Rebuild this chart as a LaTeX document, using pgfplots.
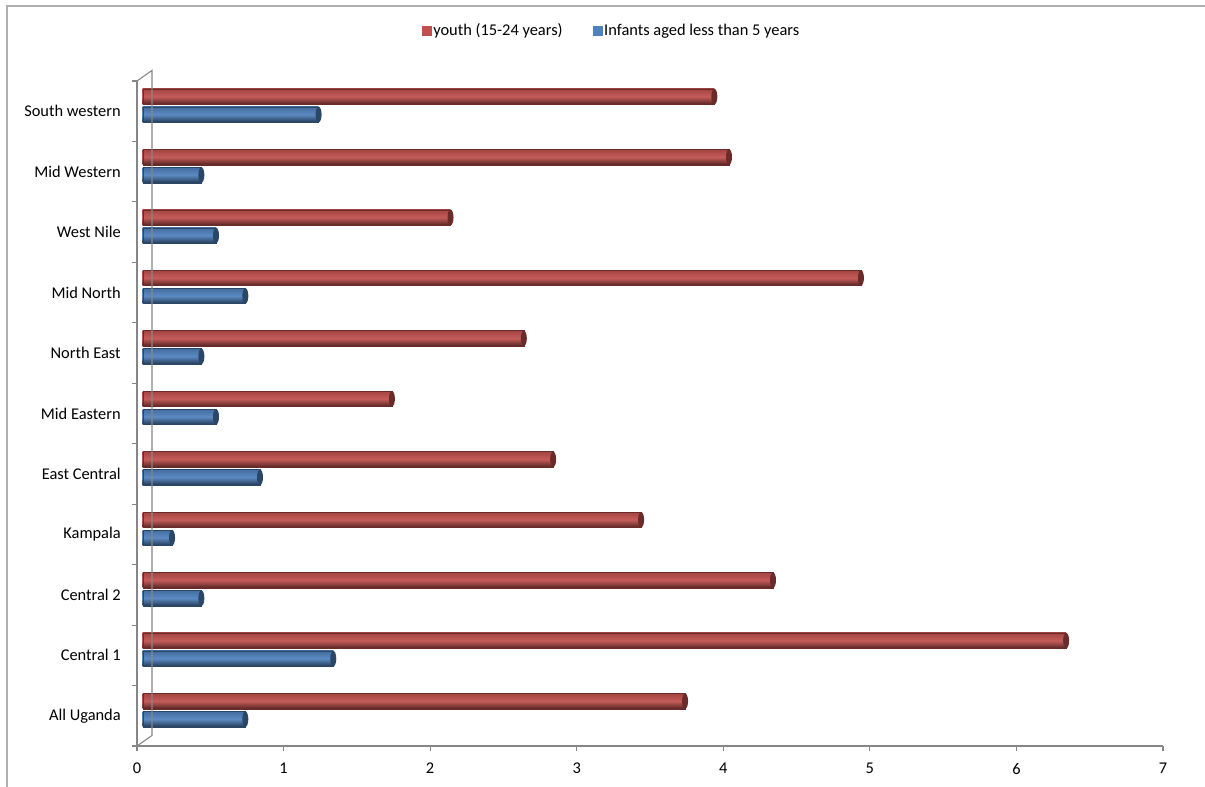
\documentclass[border=0pt]{standalone}
\usepackage{pgfplots}
\pgfplotsset{compat=1.18}
\usepackage{pgfplotstable}
\usetikzlibrary{shapes.geometric}
\usepackage{fontspec}
\setmainfont{Carlito}
\definecolor{redC}{HTML}{C0504D}
\definecolor{blueC}{HTML}{4F81BD}
\definecolor{axisgray}{HTML}{868686}
\definecolor{framegray}{HTML}{B0B0B0}

\pgfplotstableread{
idx youth infants
0 3.7 0.7
1 6.3 1.3
2 4.3 0.4
3 3.4 0.2
4 2.8 0.8
5 1.7 0.5
6 2.6 0.4
7 4.9 0.7
8 2.1 0.5
9 4.0 0.4
10 3.9 1.2
}\datatable

\begin{document}
\begin{tikzpicture}
\path[use as bounding box] (0,0) rectangle (903.75pt,589.5pt);
\draw[framegray, line width=1pt] (5.25pt,-2pt) -- (5.25pt,585pt) -- (906pt,585pt);
\begin{axis}[
  at={(102.75pt,30pt)}, anchor=south west,
  scale only axis, width=769.5pt, height=498.75pt,
  xmin=0, xmax=7, ymin=-0.5, ymax=10.5,
  axis x line*=bottom, axis y line*=left,
  axis line style={-, axisgray, line width=0.8pt},
  tick style={axisgray, line width=0.8pt},
  tick align=outside,
  major tick length=3.75pt,
  xtick={0,...,7},
  ytick={-0.5,0.5,...,10.5},
  yticklabels={},
  extra y ticks={0,1,2,3,4,5,6,7,8,9,10},
  extra y tick labels={All Uganda,Central 1,Central 2,Kampala,East Central,Mid Eastern,North East,Mid North,West Nile,Mid Western,South western},
  extra y tick style={major tick length=0pt, yticklabel style={xshift=-8.7pt}},
  /pgf/number format/assume math mode=true,
  tick label style={font=\fontsize{12.3}{14}\selectfont, black},
  xticklabel style={yshift=-5.5pt},
  xbar, bar width=11.6pt,
  legend style={at={(0.4625,1.0752)}, anchor=center, draw=none, fill=none,
    legend columns=2, font=\fontsize{12.3}{14}\selectfont,
    /tikz/every even column/.append style={column sep=21pt},
    nodes={inner sep=1.5pt}},
  clip=false,
]
\addlegendimage{legend image code/.code={\fill[redC] (0pt,-3.375pt) rectangle (6.75pt,3.375pt);}}
\addlegendentry{youth (15-24 years)}
\addlegendimage{legend image code/.code={\fill[blueC] (0pt,-3.375pt) rectangle (6.75pt,3.375pt);}}
\addlegendentry{Infants aged less than 5 years}
\pgfplotsinvokeforeach{0,...,10}{
\addplot[xbar, bar shift=11pt, xshift=4.3pt, forget plot,
  top color=redC!85!black, bottom color=redC!45!black, middle color=redC!93!white,
  draw=redC!55!black, line width=0.3pt, restrict y to domain=#1:#1,
  nodes near coords={}, every node near coord/.style={shape=ellipse, anchor=center, yshift=11pt,
    inner sep=0pt, minimum width=4.5pt, minimum height=11.6pt, fill=redC!55!black, draw=none, shade=false}]
  table[x=youth, y=idx] {\datatable};
\addplot[xbar, bar shift=-2.5pt, xshift=4.3pt, forget plot,
  top color=blueC!85!black, bottom color=blueC!45!black, middle color=blueC!93!white,
  draw=blueC!55!black, line width=0.3pt, restrict y to domain=#1:#1,
  nodes near coords={}, every node near coord/.style={shape=ellipse, anchor=center, yshift=-2.5pt,
    inner sep=0pt, minimum width=4.5pt, minimum height=11.6pt, fill=blueC!55!black, draw=none, shade=false}]
  table[x=infants, y=idx] {\datatable};
}
\draw[axisgray, line width=0.8pt] (rel axis cs:0,0) -- ++(11.25pt,7.9pt) |- ([shift={(11.25pt,7.9pt)}]rel axis cs:0,1) -- (rel axis cs:0,1);
\end{axis}
\end{tikzpicture}
\end{document}
